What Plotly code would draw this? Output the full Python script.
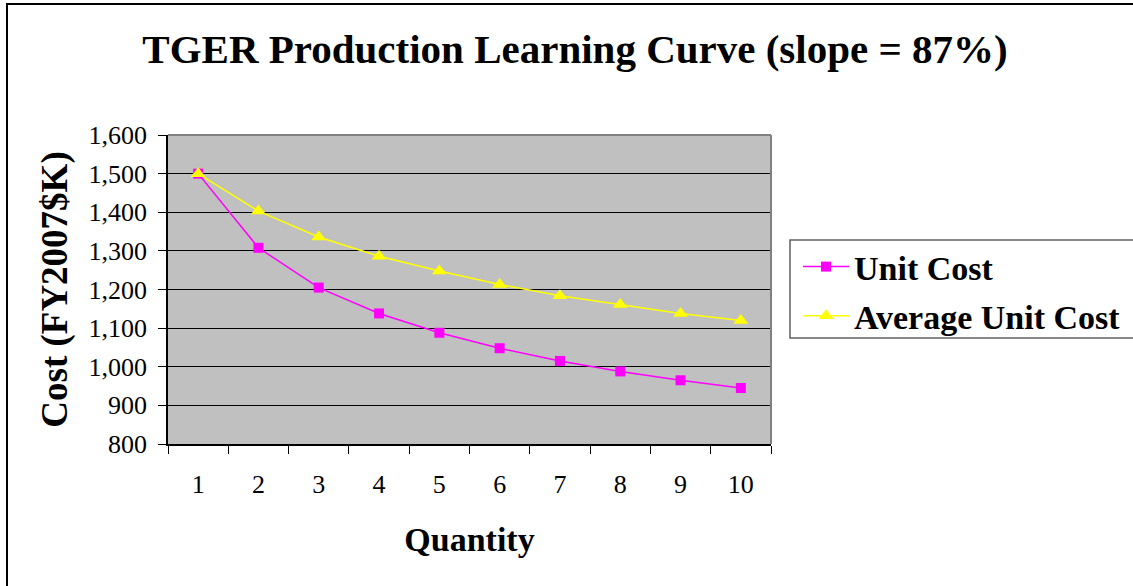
import plotly.graph_objects as go

# Learning-curve data (FY2007 $K)
quantity = ["1", "2", "3", "4", "5", "6", "7", "8", "9", "10"]
unit_cost = [1500, 1308, 1205, 1138, 1088, 1048, 1015, 988, 965, 945]
avg_unit_cost = [1500, 1403, 1336, 1286, 1248, 1213, 1184, 1161, 1138, 1120]
y_ticks = [800, 900, 1000, 1100, 1200, 1300, 1400, 1500, 1600]

W, H = 1133, 586
L, R, T, B = 168, 771, 135, 444   # plot area edges in pixels


def px(x):
    return (x - L) / (R - L)


def py(y):
    return (B - y) / (B - T)


SERIF = "Liberation Serif, Times New Roman, serif"

fig = go.Figure()
fig.add_trace(go.Scatter(
    x=quantity, y=unit_cost, name="<b>Unit Cost</b>", mode="lines+markers",
    legendgroup="unit",
    line=dict(color="#FF00FF", width=1.5),
    marker=dict(symbol="square", size=10, color="#FF00FF"),
))
fig.add_trace(go.Scatter(
    x=quantity, y=avg_unit_cost, name="<b>Average Unit Cost</b>", mode="lines+markers",
    legendgroup="avg",
    line=dict(color="#FFFF00", width=1.5),
    marker=dict(symbol="triangle-up", size=13, color="#FFFF00"),
))

shapes = [
    # outer chart frame (right and bottom edges run off the page)
    dict(type="rect", xref="paper", yref="paper",
         x0=px(7), x1=px(W + 200), y0=py(H + 200), y1=py(4),
         line=dict(color="black", width=2), fillcolor="rgba(0,0,0,0)", layer="above"),
    # gray top/right edges of the plot area
    dict(type="line", xref="paper", yref="paper", x0=0, x1=1, y0=1, y1=1,
         line=dict(color="#808080", width=2), layer="above"),
    dict(type="line", xref="paper", yref="paper", x0=1, x1=1, y0=0, y1=1,
         line=dict(color="#808080", width=2), layer="above"),
    # legend frame
    dict(type="rect", xref="paper", yref="paper",
         x0=px(790), x1=px(W + 200), y0=py(338), y1=py(240),
         line=dict(color="#606060", width=1.5), fillcolor="white", layer="below"),
]

fig.update_layout(
    width=W, height=H,
    margin=dict(l=L, r=W - R, t=T, b=H - B, autoexpand=False),
    paper_bgcolor="white",
    plot_bgcolor="#C0C0C0",
    font=dict(family=SERIF, color="black"),
    title=dict(
        text="<b>TGER Production Learning Curve (slope = 87%)</b>",
        font=dict(family=SERIF, size=41, color="black"),
        x=575 / W, xanchor="center", y=1 - 49 / H, yanchor="middle",
    ),
    xaxis=dict(
        type="category", range=[-0.5, 9.5], tickson="boundaries",
        ticks="outside", ticklen=8, tickwidth=1, tickcolor="black",
        ticklabelstandoff=16,
        showline=True, linecolor="black", linewidth=1.5,
        showgrid=False, zeroline=False,
        tickfont=dict(family=SERIF, size=26),
        title=dict(text="<b>Quantity</b>", font=dict(family=SERIF, size=34), standoff=29),
    ),
    yaxis=dict(
        range=[800, 1600], tickvals=y_ticks, tickformat=",d",
        ticks="outside", ticklen=8, tickwidth=1, tickcolor="black",
        ticklabelstandoff=6,
        showline=True, linecolor="black", linewidth=1.5,
        showgrid=True, gridcolor="black", gridwidth=1, zeroline=False,
        tickfont=dict(family=SERIF, size=26),
        title=dict(text="<b>Cost (FY2007$K)</b>", font=dict(family=SERIF, size=37), standoff=10),
    ),
    legend=dict(
        x=px(798), y=py(238), xanchor="left", yanchor="top",
        bgcolor="rgba(0,0,0,0)", borderwidth=0,
        font=dict(family=SERIF, size=34, color="black"),
        itemwidth=46, tracegroupgap=2,
    ),
    shapes=shapes,
)

fig.write_html("out.html")
